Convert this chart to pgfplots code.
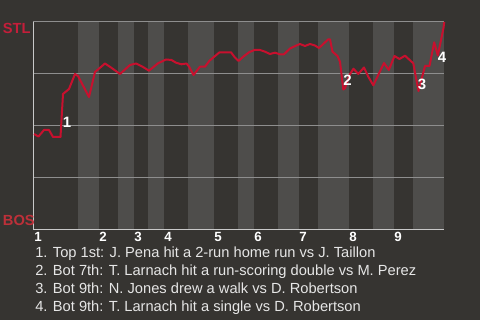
\documentclass[border=0pt]{standalone}
\usepackage{pgfplots}
\pgfplotsset{compat=1.18}
\usepackage{fontspec}
\setmainfont{Liberation Sans}
\definecolor{bgc}{HTML}{363431}
\definecolor{bandc}{HTML}{4E4D4B}
\definecolor{gridc}{HTML}{8E8E8E}
\definecolor{axc}{HTML}{C8C8C8}
\definecolor{linec}{HTML}{C8102E}
\definecolor{stlc}{HTML}{C41E3A}
\definecolor{bosc}{HTML}{BD3039}
\definecolor{txtc}{HTML}{E6E6E6}
\begin{document}
\begin{tikzpicture}
\fill[bgc] (0pt,0pt) rectangle (360pt,240pt);
\begin{axis}[
  at={(24.75pt,67.5pt)}, anchor=south west,
  scale only axis, width=308.25pt, height=156pt,
  xmin=0, xmax=411, ymin=0, ymax=1,
  hide axis, clip=false]
% half-inning bands (bottom halves)
\fill[bandc] (axis cs:45,0) rectangle (axis cs:66,1);
\fill[bandc] (axis cs:85,0) rectangle (axis cs:101,1);
\fill[bandc] (axis cs:115,0) rectangle (axis cs:131,1);
\fill[bandc] (axis cs:155,0) rectangle (axis cs:181,1);
\fill[bandc] (axis cs:205,0) rectangle (axis cs:221,1);
\fill[bandc] (axis cs:245,0) rectangle (axis cs:266,1);
\fill[bandc] (axis cs:285,0) rectangle (axis cs:316,1);
\fill[bandc] (axis cs:340,0) rectangle (axis cs:361,1);
\fill[bandc] (axis cs:380,0) rectangle (axis cs:411,1);
\draw[gridc, line width=0.75pt] (axis cs:0,0.25) -- (axis cs:411,0.25);
\draw[gridc, line width=0.75pt] (axis cs:0,0.5) -- (axis cs:411,0.5);
\draw[gridc, line width=0.75pt] (axis cs:0,0.75) -- (axis cs:411,0.75);
\draw[gridc, line width=0.75pt] (axis cs:0,1) -- (axis cs:411,1);
\draw[axc, line width=0.75pt] (axis cs:0,1) -- (axis cs:0,0) -- (axis cs:411,0);
\addplot[linec, line width=1.5pt, line join=round, no markers] coordinates {
(1,0.4615) (5.5,0.4495) (11,0.4808) (16,0.4808) (20,0.4471) (27.5,0.4471)
(30,0.6538) (36,0.6779) (42,0.75) (45,0.7404) (56,0.6394) (62,0.7596)
(72,0.8005) (78,0.7813) (87,0.75) (97,0.7933) (103,0.8005) (110,0.7837)
(116,0.7659) (125,0.8014) (133,0.8197) (138.5,0.8173) (143,0.8043)
(148.5,0.7966) (153.5,0.8005) (156,0.7861) (160.5,0.7452) (167,0.7851)
(172,0.7851) (176.5,0.8139) (186.5,0.8543) (198,0.8543) (201.5,0.8317)
(205.5,0.8125) (210.5,0.8341) (216.5,0.8558) (221.5,0.8654) (227,0.8654)
(232,0.8572) (237,0.8462) (242,0.8524) (247,0.8447) (251,0.8447)
(257,0.8726) (263,0.8861) (267,0.8942) (272,0.8846) (277,0.8942)
(282,0.8870) (286,0.8750) (295.3,0.9168) (297,0.9168) (299.5,0.8572)
(304.5,0.8365) (307,0.8091) (310.3,0.6755) (312,0.6813) (316.5,0.7452)
(320.5,0.7755) (325.3,0.7500) (331,0.7813) (335.3,0.7370) (340.3,0.6957)
(351,0.8029) (355.8,0.7692) (361.5,0.8365) (366.5,0.8221) (372,0.8380)
(380.3,0.8014) (385.5,0.6683) (392,0.7885) (396.5,0.7885) (401.2,0.9024)
(404.8,0.8389) (410.5,0.9712) (411.3,1.0)
};
\node[text=white, font=\bfseries\fontsize{11.25}{12}\selectfont] at (axis cs:34,0.519) {1};
\node[text=white, font=\bfseries\fontsize{11.25}{12}\selectfont] at (axis cs:314.5,0.721) {2};
\node[text=white, font=\bfseries\fontsize{11.25}{12}\selectfont] at (axis cs:389,0.702) {3};
\node[text=white, font=\bfseries\fontsize{11.25}{12}\selectfont] at (axis cs:409,0.832) {4};
\end{axis}
\begin{scope}[x=0.75pt,y=0.75pt]
\node[anchor=base west, inner sep=0, text=stlc, font=\bfseries\fontsize{11}{13}\selectfont] at (2.7,286.7) {STL};
\node[anchor=base west, inner sep=0, text=bosc, font=\bfseries\fontsize{11}{13}\selectfont] at (2.7,94) {BOS};
\foreach \x/\n in {34/1,99/2,134/3,164/4,214/5,254/6,299/7,349/8,394/9}{
  \node[anchor=base west, inner sep=0, text=white, font=\bfseries\fontsize{10}{11}\selectfont] at (\x,78.3) {\n};
}
\begin{scope}[every node/.style={anchor=base west, inner sep=0, text=txtc, font=\fontsize{11}{13}\selectfont}]
\node at (35,62.3) {1. Top 1st: J. Pena hit a 2-run home run vs J. Taillon};
\node at (35,44.3) {2. Bot 7th: T. Larnach hit a run-scoring double vs M. Perez};
\node at (35,26.5) {3. Bot 9th: N. Jones drew a walk vs D. Robertson};
\node at (35,8.7) {4. Bot 9th: T. Larnach hit a single vs D. Robertson};
\end{scope}
\end{scope}
\end{tikzpicture}
\end{document}
